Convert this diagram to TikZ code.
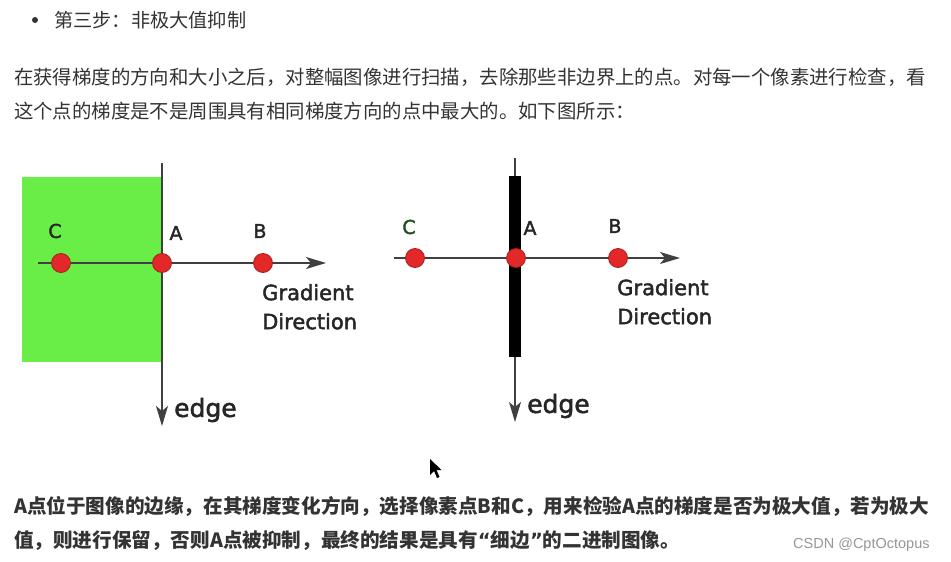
\documentclass[tikz,border=0pt]{standalone}
\usepackage{fontspec}
\setmainfont{DejaVu Sans}
\newfontfamily\cjk{Noto Sans CJK SC}
\newfontfamily\webfont{Liberation Sans}
\newfontfamily\labfont[FakeBold=2]{DejaVu Sans}
\usetikzlibrary{arrows.meta, positioning}
\definecolor{txtgray}{RGB}{51, 51, 51}
\definecolor{edgegreen}{RGB}{104, 238, 70}
\definecolor{dotred}{RGB}{226, 40, 40}
\definecolor{cgreen}{RGB}{30, 80, 30}
\definecolor{markgray}{RGB}{150, 150, 150}

\tikzset{
  dot/.style={circle, fill=dotred, draw=dotred!75!black, line width=0.8pt, inner sep=0pt, minimum size=19pt},
  ptlabel/.style={font=\labfont\fontsize{19}{19}\selectfont, text=black!85, inner sep=0pt},
  dirlabel/.style={font=\labfont\fontsize{21}{29}\selectfont, text=black!85, align=left, anchor=north west, inner sep=0pt},
  axis/.style={draw=black!75, line width=1.2pt, -{Stealth[length=20pt, width=12pt, inset=5pt]}},
  bodytext/.style={font=\cjk\fontsize{19.4}{19.4}\selectfont, text=txtgray, anchor=west, inner sep=0pt},
}

\begin{document}
\begin{tikzpicture}[x=1pt, y=-1pt]
\useasboundingbox (0,0) rectangle (951,562);

% 标题和说明文字
\fill[txtgray] (35,20) circle (3);
\node[bodytext, font=\cjk\fontsize{19.2}{19.2}\selectfont] (title) at (54,20) {第三步：非极大值抑制};
\node[bodytext] (para1) at (14,77) {在获得梯度的方向和大小之后，对整幅图像进行扫描，去除那些非边界上的点。对每一个像素进行检查，看};
\node[bodytext] (para2) at (14,111) {这个点的梯度是不是周围具有相同梯度方向的点中最大的。如下图所示：};

% 左图：宽边缘
\fill[edgegreen] (22,177) rectangle (162,362);
\coordinate (ltop) at (162,163);
\coordinate (lbot) at (162,426);
\coordinate (lleft) at (38,263);
\coordinate (lright) at (326,263);
\draw[axis] (ltop) -- (lbot);
\draw[axis] (lleft) -- (lright);
\node[dot] (lC) at (61,263) {};
\node[dot] (lA) at (162,263) {};
\node[dot] (lB) at (263,263) {};
\node[ptlabel] (lClab) at (55,231) {C};
\node[ptlabel] (lAlab) at (176,233) {A};
\node[ptlabel] (lBlab) at (260,231) {B};
\node[dirlabel] (ldir) at (262,284) {Gradient\\Direction};
\node[ptlabel, font=\labfont\fontsize{25}{25}\selectfont, anchor=west] (ledge) at (174,410) {edge};

% 右图：细边缘
\coordinate (rtop) at (515,158);
\coordinate (rbot) at (515,422);
\coordinate (rleft) at (394,258);
\coordinate (rright) at (680,258);
\draw[axis] (rtop) -- (rbot);
\fill[black] (509,176) rectangle (521,357);
\draw[axis] (rleft) -- (rright);
\node[dot] (rC) at (415,258) {};
\node[dot] (rA) at (516,258) {};
\node[dot] (rB) at (618,258) {};
\node[ptlabel, text=cgreen] (rClab) at (409,227) {C};
\node[ptlabel] (rAlab) at (530,228) {A};
\node[ptlabel] (rBlab) at (615,226) {B};
\node[dirlabel] (rdir) at (617,279) {Gradient\\Direction};
\node[ptlabel, font=\labfont\fontsize{25}{25}\selectfont, anchor=west] (redge) at (527,406) {edge};

% 鼠标指针
\fill[black] (430,459) -- (430,475) -- (434,471) -- (437,478) -- (439.5,477) -- (436.5,470) -- (441.5,470) -- cycle;

% 底部说明
\node[bodytext, font=\cjk\bfseries\fontsize{19.6}{19.6}\selectfont] (note1) at (14,506) {A点位于图像的边缘，在其梯度变化方向，选择像素点B和C，用来检验A点的梯度是否为极大值，若为极大};
\node[bodytext, font=\cjk\bfseries\fontsize{19.6}{19.6}\selectfont] (note2) at (14,541) {值，则进行保留，否则A点被抑制，最终的结果是具有{\rmfamily\bfseries “}细边{\rmfamily\bfseries ”}的二进制图像。};
\node[anchor=west, inner sep=0pt, text=markgray, font=\webfont\fontsize{14.5}{14.5}\selectfont] (mark) at (793,545) {CSDN @CptOctopus};
\end{tikzpicture}
\end{document}
